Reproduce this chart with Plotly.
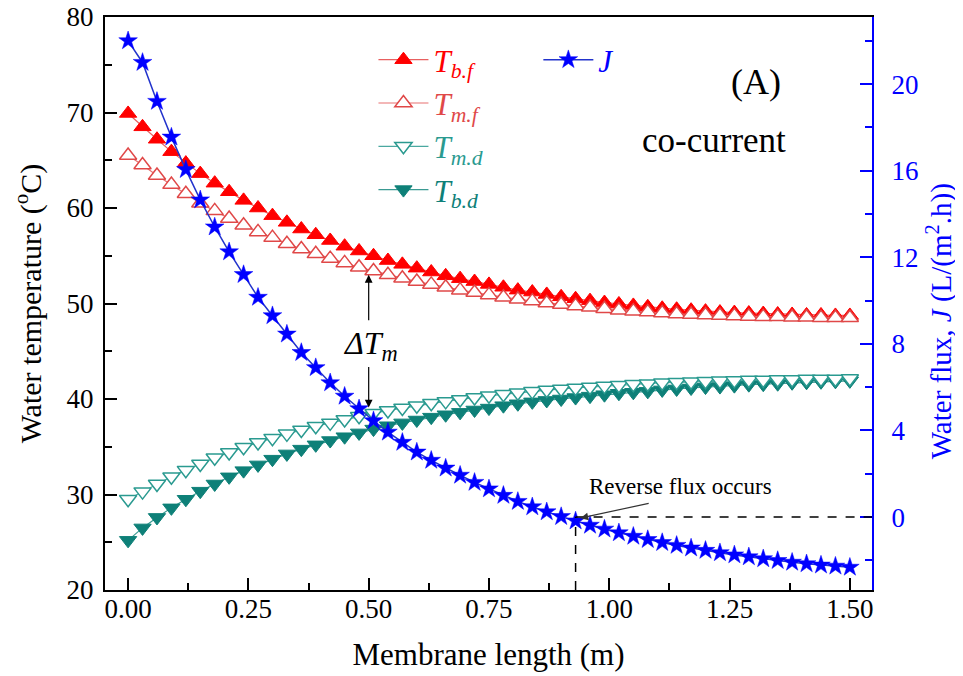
import plotly.graph_objects as go

# ---------------- data ----------------
length_m = [0.00, 0.03, 0.06, 0.09, 0.12, 0.15, 0.18, 0.21, 0.24, 0.27,
            0.30, 0.33, 0.36, 0.39, 0.42, 0.45, 0.48, 0.51, 0.54, 0.57,
            0.60, 0.63, 0.66, 0.69, 0.72, 0.75, 0.78, 0.81, 0.84, 0.87,
            0.90, 0.93, 0.96, 0.99, 1.02, 1.05, 1.08, 1.11, 1.14, 1.17,
            1.20, 1.23, 1.26, 1.29, 1.32, 1.35, 1.38, 1.41, 1.44, 1.47, 1.50]

T_bf = [69.9, 68.5, 67.2, 65.9, 64.7, 63.6, 62.6, 61.7, 60.8, 60.0,
        59.2, 58.5, 57.8, 57.2, 56.6, 56.0, 55.5, 55.0, 54.5, 54.1,
        53.7, 53.3, 52.9, 52.6, 52.3, 52.0, 51.7, 51.4, 51.2, 50.95,
        50.7, 50.5, 50.3, 50.1, 49.95, 49.8, 49.65, 49.5, 49.4, 49.3,
        49.2, 49.1, 49.05, 49.0, 48.95, 48.9, 48.85, 48.8, 48.8, 48.75, 48.75]

T_mf = [65.5, 64.5, 63.4, 62.45, 61.5, 60.5, 59.7, 58.9, 58.2, 57.5,
        56.9, 56.25, 55.7, 55.2, 54.7, 54.25, 53.8, 53.4, 53.0, 52.65,
        52.3, 52.0, 51.7, 51.4, 51.15, 50.9, 50.65, 50.45, 50.25, 50.05,
        49.9, 49.75, 49.6, 49.45, 49.3, 49.2, 49.1, 49.0, 48.9, 48.85,
        48.8, 48.75, 48.7, 48.65, 48.6, 48.6, 48.55, 48.55, 48.5, 48.5, 48.5]

T_md = [29.5, 30.3, 31.1, 31.85, 32.55, 33.2, 33.85, 34.4, 34.95, 35.45,
        35.9, 36.35, 36.75, 37.15, 37.5, 37.85, 38.2, 38.5, 38.8, 39.05,
        39.3, 39.55, 39.75, 39.95, 40.15, 40.35, 40.5, 40.65, 40.8, 40.95,
        41.05, 41.15, 41.25, 41.35, 41.45, 41.55, 41.6, 41.7, 41.75, 41.8,
        41.85, 41.9, 41.95, 42.0, 42.0, 42.05, 42.05, 42.1, 42.1, 42.1, 42.15]

T_bd = [25.2, 26.5, 27.6, 28.6, 29.5, 30.35, 31.1, 31.85, 32.5, 33.1,
        33.7, 34.25, 34.75, 35.2, 35.65, 36.05, 36.45, 36.85, 37.2, 37.5,
        37.8, 38.1, 38.35, 38.6, 38.85, 39.05, 39.3, 39.5, 39.7, 39.85,
        40.0, 40.15, 40.3, 40.45, 40.6, 40.7, 40.8, 40.95, 41.05, 41.15,
        41.25, 41.3, 41.4, 41.5, 41.55, 41.6, 41.7, 41.75, 41.8, 41.85, 41.9]

J_flux = [22.0, 21.0, 19.2, 17.55, 16.05, 14.65, 13.4, 12.25, 11.2, 10.15,
          9.3, 8.45, 7.6, 6.9, 6.2, 5.58, 5.0, 4.45, 3.92, 3.45,
          3.0, 2.62, 2.26, 1.93, 1.6, 1.3, 1.0, 0.72, 0.47, 0.24,
          0.02, -0.18, -0.38, -0.56, -0.73, -0.89, -1.04, -1.18, -1.31, -1.43,
          -1.54, -1.65, -1.75, -1.84, -1.93, -2.01, -2.09, -2.16, -2.22, -2.27, -2.32]

x_ticks = [0.00, 0.25, 0.50, 0.75, 1.00, 1.25, 1.50]
x_tick_labels = ["0.00", "0.25", "0.50", "0.75", "1.00", "1.25", "1.50"]
T_ticks = [20, 30, 40, 50, 60, 70, 80]
J_ticks = [0, 4, 8, 12, 16, 20]

reverse_x = 0.93   # where reverse flux occurs
reverse_J = 0.0

# ---------------- style ----------------
RED = "#FF0000"
RED_LIGHT = "#E04848"
TEAL = "#0E8078"
TEAL_LIGHT = "#2A9A90"
BLUE = "#0000FF"
BLUE_LINE = "#2233CC"
FONT = "Liberation Serif"

fig = go.Figure()

fig.add_trace(go.Scatter(
    x=length_m, y=T_bf, mode="lines+markers",
    name='<span style="color:%s"><i>T</i><sub><i>b.f</i></sub></span>' % RED,
    line=dict(color="#E86060", width=1.2),
    marker=dict(symbol="triangle-up", size=15, color=RED, line=dict(color=RED, width=1)),
    legendrank=1, legendgroup="a"))
fig.add_trace(go.Scatter(
    x=length_m, y=T_mf, mode="lines+markers",
    name='<span style="color:%s"><i>T</i><sub><i>m.f</i></sub></span>' % RED_LIGHT,
    line=dict(color="#E87070", width=1.2),
    marker=dict(symbol="triangle-up", size=15, color="white", line=dict(color=RED_LIGHT, width=1.5)),
    legendrank=2, legendgroup="b"))
fig.add_trace(go.Scatter(
    x=length_m, y=T_bd, mode="lines+markers",
    name='<span style="color:%s"><i>T</i><sub><i>b.d</i></sub></span>' % TEAL,
    line=dict(color="#3A9A92", width=1.2),
    marker=dict(symbol="triangle-down", size=15, color=TEAL, line=dict(color=TEAL, width=1)),
    legendrank=4, legendgroup="d"))
fig.add_trace(go.Scatter(
    x=length_m, y=T_md, mode="lines+markers",
    name='<span style="color:%s"><i>T</i><sub><i>m.d</i></sub></span>' % TEAL_LIGHT,
    line=dict(color="#4AA8A0", width=1.2),
    marker=dict(symbol="triangle-down", size=15, color="white", line=dict(color=TEAL_LIGHT, width=1.5)),
    legendrank=3, legendgroup="c"))
fig.add_trace(go.Scatter(
    x=length_m, y=J_flux, mode="lines+markers", yaxis="y2",
    name='<span style="color:%s"><i>J</i></span>' % BLUE,
    line=dict(color=BLUE_LINE, width=1.5),
    marker=dict(symbol="star", size=14, color=BLUE, line=dict(color=BLUE, width=0.5)),
    legend="legend2"))

x_range = [-0.048, 1.546]
J_range = [-3.37, 23.1]

# the page body adds an 8px offset, so the figure is 8px smaller on each side
fig.update_layout(
    width=955, height=668,
    margin=dict(l=97, r=91, t=9, b=86),
    paper_bgcolor="white", plot_bgcolor="white",
    font=dict(family=FONT, size=26, color="black"),
    xaxis=dict(
        range=x_range, tickvals=x_ticks, ticktext=x_tick_labels,
        showline=True, linecolor="black", linewidth=2, mirror=True,
        ticks="inside", ticklen=12, tickwidth=1.5, tickcolor="black",
        minor=dict(dtick=0.125, tick0=0, ticks="inside", ticklen=7, tickwidth=1.5, tickcolor="black"),
        showgrid=False, zeroline=False, automargin=False,
        tickfont=dict(size=27), ticklabelstandoff=-6, ticklabeloverflow="allow",
        title=dict(text="Membrane length (m)", font=dict(size=31), standoff=20),
    ),
    yaxis=dict(
        range=[20, 80], tickvals=T_ticks,
        showline=True, linecolor="black", linewidth=2,
        ticks="inside", ticklen=12, tickwidth=1.5, tickcolor="black",
        minor=dict(dtick=5, tick0=0, ticks="inside", ticklen=7, tickwidth=1.5, tickcolor="black"),
        showgrid=False, zeroline=False, automargin=False,
        tickfont=dict(size=27), ticklabelstandoff=4, ticklabeloverflow="allow",
        title=dict(text="Water temperature (<sup>o</sup>C)", font=dict(size=30), standoff=16),
    ),
    yaxis2=dict(
        overlaying="y", side="right", range=J_range, tickvals=J_ticks,
        showline=True, linecolor=BLUE, linewidth=2,
        ticks="inside", ticklen=12, tickwidth=1.5, tickcolor=BLUE,
        minor=dict(dtick=2, tick0=0, ticks="inside", ticklen=7, tickwidth=1.5, tickcolor=BLUE),
        showgrid=False, zeroline=False, automargin=False,
        tickfont=dict(size=27, color=BLUE), ticklabelstandoff=12, ticklabeloverflow="allow",
    ),
    legend=dict(
        x=0.35, y=0.972, xanchor="left", yanchor="top",
        bgcolor="rgba(0,0,0,0)", font=dict(size=31, family=FONT),
        tracegroupgap=0, itemwidth=50,
    ),
    legend2=dict(
        x=0.565, y=0.972, xanchor="left", yanchor="top",
        bgcolor="rgba(0,0,0,0)", font=dict(size=31, family=FONT),
        itemwidth=50,
    ),
    showlegend=True,
)

# right axis title as a rotated annotation (kept inside the page)
fig.add_annotation(x=1.088, y=0.47, xref="paper", yref="paper",
                   text="Water flux, <i>J</i> (L/(m<sup>2</sup>.h))", textangle=-90,
                   showarrow=False, xanchor="center", yanchor="middle",
                   font=dict(size=29, family=FONT, color=BLUE))

# dashed reference lines at reverse-flux point
fig.add_shape(type="line", xref="x", yref="y2",
              x0=reverse_x, x1=x_range[1], y0=reverse_J, y1=reverse_J,
              line=dict(color="black", width=1.5, dash="dash"))
fig.add_shape(type="line", xref="x", yref="y2",
              x0=reverse_x, x1=reverse_x, y0=J_range[0], y1=reverse_J,
              line=dict(color="black", width=1.5, dash="dash"))

# text annotations
fig.add_annotation(x=1.305, y=73.2, xref="x", yref="y", text="(A)",
                   showarrow=False, font=dict(size=36, family=FONT))
fig.add_annotation(x=1.218, y=67.1, xref="x", yref="y", text="co-current",
                   showarrow=False, font=dict(size=35, family=FONT))
fig.add_annotation(x=0.503, y=45.6, xref="x", yref="y",
                   text="<i>ΔT</i><sub><i>m</i></sub>",
                   showarrow=False, font=dict(size=32, family=FONT))
# ΔTm arrows
fig.add_annotation(x=0.50, y=53.0, ax=0.50, ay=48.1, xref="x", yref="y",
                   axref="x", ayref="y", text="", showarrow=True,
                   arrowhead=2, arrowsize=1.3, arrowwidth=1.2, arrowcolor="black")
fig.add_annotation(x=0.50, y=39.1, ax=0.50, ay=43.5, xref="x", yref="y",
                   axref="x", ayref="y", text="", showarrow=True,
                   arrowhead=2, arrowsize=1.3, arrowwidth=1.2, arrowcolor="black")
# reverse flux
fig.add_annotation(x=1.147, y=1.4, xref="x", yref="y2", text="Reverse flux occurs",
                   showarrow=False, font=dict(size=23, family=FONT))
fig.add_annotation(x=0.94, y=-0.05, ax=1.085, ay=0.65, xref="x", yref="y2",
                   axref="x", ayref="y2", text="", showarrow=True,
                   arrowhead=2, arrowsize=1.3, arrowwidth=1.2, arrowcolor="#333333")

fig.write_html("out.html")
